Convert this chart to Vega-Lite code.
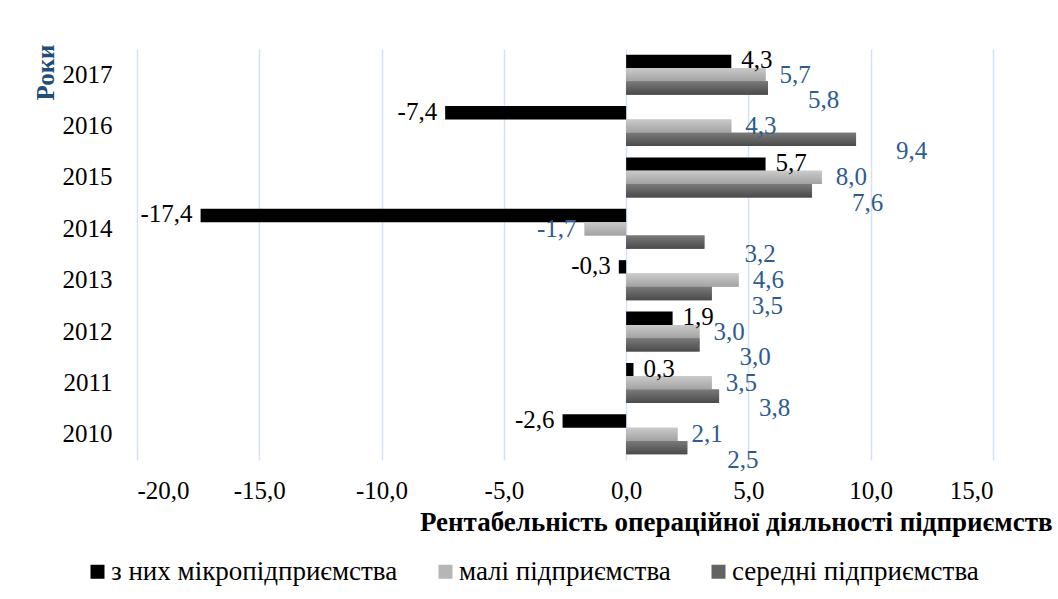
{
  "$schema": "https://vega.github.io/schema/vega-lite/v6.json",
  "autosize": "none",
  "width": 856,
  "height": 411,
  "padding": {"left": 137, "top": 49, "right": 65, "bottom": 139},
  "background": "white",
  "config": {
    "locale": {"number": {"decimal": ",", "thousands": " ", "grouping": [3], "currency": ["", ""], "minus": "-"}},
    "view": {"stroke": null},
    "font": "Liberation Serif, DejaVu Serif, serif"
  },
  "data": {
    "values": [
      {"year": "2017", "series": "з них мікропідприємства", "value": 4.3},
      {"year": "2017", "series": "малі підприємства", "value": 5.7},
      {"year": "2017", "series": "середні підприємства", "value": 5.8},
      {"year": "2016", "series": "з них мікропідприємства", "value": -7.4},
      {"year": "2016", "series": "малі підприємства", "value": 4.3},
      {"year": "2016", "series": "середні підприємства", "value": 9.4},
      {"year": "2015", "series": "з них мікропідприємства", "value": 5.7},
      {"year": "2015", "series": "малі підприємства", "value": 8.0},
      {"year": "2015", "series": "середні підприємства", "value": 7.6},
      {"year": "2014", "series": "з них мікропідприємства", "value": -17.4},
      {"year": "2014", "series": "малі підприємства", "value": -1.7},
      {"year": "2014", "series": "середні підприємства", "value": 3.2},
      {"year": "2013", "series": "з них мікропідприємства", "value": -0.3},
      {"year": "2013", "series": "малі підприємства", "value": 4.6},
      {"year": "2013", "series": "середні підприємства", "value": 3.5},
      {"year": "2012", "series": "з них мікропідприємства", "value": 1.9},
      {"year": "2012", "series": "малі підприємства", "value": 3.0},
      {"year": "2012", "series": "середні підприємства", "value": 3.0},
      {"year": "2011", "series": "з них мікропідприємства", "value": 0.3},
      {"year": "2011", "series": "малі підприємства", "value": 3.5},
      {"year": "2011", "series": "середні підприємства", "value": 3.8},
      {"year": "2010", "series": "з них мікропідприємства", "value": -2.6},
      {"year": "2010", "series": "малі підприємства", "value": 2.1},
      {"year": "2010", "series": "середні підприємства", "value": 2.5}
    ]
  },
  "encoding": {
    "y": {
      "field": "year", "type": "ordinal", "sort": "descending",
      "scale": {"paddingInner": 0.22, "paddingOuter": 0.11},
      "axis": {
        "title": "Роки", "titleAngle": 270, "titleX": -84, "titleY": 51,
        "titleAlign": "left", "titleBaseline": "alphabetic",
        "titleFont": "Liberation Serif, DejaVu Serif, serif", "titleFontSize": 25, "titleFontWeight": "bold", "titleColor": "#1F4E79",
        "labelFont": "Liberation Serif, DejaVu Serif, serif", "labelFontSize": 25, "labelColor": "#000000",
        "labelPadding": 25, "ticks": false, "domain": false, "grid": false
      }
    },
    "yOffset": {
      "field": "series", "type": "nominal",
      "sort": ["з них мікропідприємства", "малі підприємства", "середні підприємства"],
      "scale": {"paddingInner": 0, "paddingOuter": 0}
    },
    "x": {
      "field": "value", "type": "quantitative",
      "scale": {"domain": [-20, 15], "nice": false, "zero": false},
      "axis": {
        "title": "Рентабельність операційної діяльності підприємств",
        "titleX": 915, "titleY": 70, "titleAlign": "right", "titleBaseline": "alphabetic",
        "titleFont": "Liberation Serif, DejaVu Serif, serif", "titleFontSize": 27, "titleFontWeight": "bold", "titleColor": "#000000",
        "values": [-20, -15, -10, -5, 0, 5, 10, 15], "format": ".1f",
        "labelFont": "Liberation Serif, DejaVu Serif, serif", "labelFontSize": 25, "labelColor": "#000000",
        "labelPadding": 18, "ticks": false, "domain": false,
        "grid": true, "gridColor": "#D6E2F2", "gridWidth": 1.5
      }
    }
  },
  "layer": [
    {
      "mark": {"type": "bar"},
      "encoding": {
        "color": {
          "field": "series", "type": "nominal",
          "sort": ["з них мікропідприємства", "малі підприємства", "середні підприємства"],
          "scale": {
            "domain": ["з них мікропідприємства", "малі підприємства", "середні підприємства"],
            "range": ["#000000", "#b6b6b6", "#626262"]
          },
          "legend": {
            "title": null, "orient": "none", "direction": "horizontal", "columns": 3,
            "legendX": -53, "legendY": 509, "padding": 0,
            "symbolType": "square", "symbolSize": 196, "symbolStrokeWidth": 0,
            "labelFont": "Liberation Serif, DejaVu Serif, serif", "labelFontSize": 27, "labelColor": "#000000",
            "labelLimit": 500, "labelOffset": 0, "columnPadding": 34
          }
        }
      }
    },
    {
      "transform": [{"filter": "datum.series === 'малі підприємства'"}],
      "mark": {
        "type": "bar",
        "color": {"gradient": "linear", "x1": 0, "y1": 0, "x2": 0, "y2": 1, "stops": [{"offset": 0, "color": "#cacaca"}, {"offset": 1, "color": "#a2a2a2"}]}
      },
      "encoding": {}
    },
    {
      "transform": [{"filter": "datum.series === 'середні підприємства'"}],
      "mark": {
        "type": "bar",
        "color": {"gradient": "linear", "x1": 0, "y1": 0, "x2": 0, "y2": 1, "stops": [{"offset": 0, "color": "#7a7a7a"}, {"offset": 1, "color": "#4a4a4a"}]}
      },
      "encoding": {}
    },
    {
      "mark": {
        "type": "text", "fontSize": 25, "font": "Liberation Serif, DejaVu Serif, serif", "baseline": "middle",
        "align": {"expr": "datum.value < 0 ? 'right' : 'left'"},
        "dx": {"expr": "datum.value < 0 ? -8 : (datum.series === 'середні підприємства' ? 40 : (datum.series === 'малі підприємства' ? 14 : 10))"},
        "dy": {"expr": "datum.series === 'середні підприємства' ? 12 : (datum.series === 'малі підприємства' ? 0 : -1)"}
      },
      "encoding": {
        "text": {"field": "value", "type": "quantitative", "format": ".1f"},
        "color": {
          "condition": {"test": "datum.series === 'з них мікропідприємства'", "value": "#000000"},
          "value": "#2E5C8F"
        }
      }
    }
  ]
}
